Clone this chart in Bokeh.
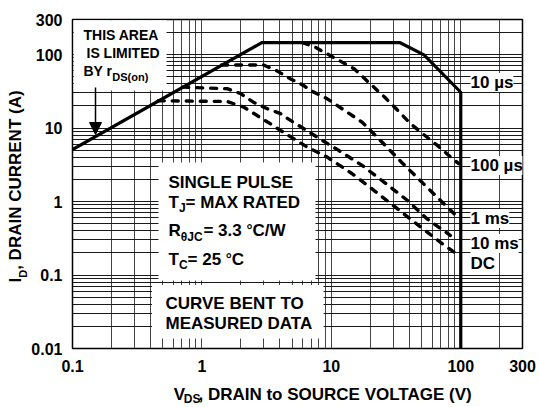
import math
from bokeh.plotting import figure
from bokeh.layouts import row, column
from bokeh.models import (Range1d, FixedTicker, Label, BoxAnnotation, Arrow,
                          NormalHead, CustomJSTickFormatter)
from bokeh.embed import file_html
from bokeh.resources import INLINE

# ---------------- data ----------------
x_ticks = [0.1, 1, 10, 100, 300]
x_tick_labels = ["0.1", "1", "10", "100", "300"]
y_ticks = [0.01, 0.1, 1, 10, 100, 300]
y_tick_labels = ["0.01", "0.1", "1", "10", "100", "300"]

# 10 us envelope (solid): rDS(on) limit, current limit, power limit, BVDSS
limit_v = [0.1, 2.9, 34, 52, 100, 100]
limit_i = [5.1, 145, 145, 99, 30.7, 0.01]

us100_v = [6.0, 7.5, 10, 15, 20, 26, 33, 41, 52, 66, 80, 96]
us100_i = [145, 126, 95, 64, 40, 26, 17, 11.4, 8.1, 5.8, 4.3, 3.3]

ms1_v = [1.42, 3.0, 3.8, 4.8, 6.1, 6.9, 9.3, 17.3, 24.7, 35, 50, 72, 89]
ms1_i = [72, 72, 60, 47, 38, 32.4, 25, 12, 6.4, 3.4, 1.84, 0.98, 0.68]

ms10_v = [0.71, 1.57, 2.0, 2.5, 3.2, 4.05, 4.84, 6.13, 7.78, 11.4, 17.3, 25.5, 38.6, 55, 83]
ms10_i = [36, 34.3, 29.3, 22.5, 18.3, 15.7, 12.7, 9.8, 7.5, 4.96, 3.1, 1.84, 1.04, 0.58, 0.346]

dc_v = [0.46, 1.57, 2.11, 2.67, 3.39, 4.05, 5.13, 6.51, 9.29, 14.5, 21.3, 32.3, 47.4, 71.9, 88.5]
dc_i = [23.5, 23.0, 19.2, 14.8, 11.4, 9.27, 7.15, 5.5, 4.02, 2.39, 1.42, 0.80, 0.47, 0.267, 0.205]

curve_labels = ["10 µs", "100 µs", "1 ms", "10 ms", "DC"]

# ---------------- layout helpers ----------------
FONT = "Liberation Sans"
XMIN, XMAX, YMIN, YMAX = 0.1, 300, 0.01, 300
FL, FR, FT, FB = 72, 522, 19, 348  # frame edges in page pixels
YT_W = 28            # width of the y-title strip
MAIN_W, MAIN_H = 539 - YT_W, 386
XT_H = 407 - MAIN_H  # height of the x-title strip


def X(px):
    return 10 ** (math.log10(XMIN) + (px - FL) / (FR - FL) * math.log10(XMAX / XMIN))


def Y(py):
    return 10 ** (math.log10(YMIN) + (FB - py) / (FB - FT) * math.log10(YMAX / YMIN))


WID = {' ': 278, '(': 333, ')': 333, ',': 278, '-': 333, '.': 278, '/': 278, '=': 584,
       '°': 400, 'µ': 611, 'θ': 611,
       'A': 722, 'B': 722, 'C': 722, 'D': 722, 'E': 667, 'F': 611, 'G': 778, 'H': 722,
       'I': 278, 'J': 556, 'K': 722, 'L': 611, 'M': 833, 'N': 722, 'O': 778, 'P': 667,
       'Q': 778, 'R': 722, 'S': 667, 'T': 611, 'U': 722, 'V': 667, 'W': 944, 'X': 667,
       'Y': 667, 'Z': 611, 'a': 556, 'b': 611, 'c': 556, 'd': 611, 'e': 556, 'f': 333,
       'g': 611, 'h': 611, 'i': 278, 'j': 278, 'k': 556, 'l': 278, 'm': 889, 'n': 611,
       'o': 611, 'p': 611, 'q': 611, 'r': 389, 's': 556, 't': 333, 'u': 611, 'v': 556,
       'w': 778, 'x': 556, 'y': 556, 'z': 500}
for d in "0123456789":
    WID[d] = 556


def tw(s, size):
    return sum(WID.get(c, 600) for c in s) * size / 1000.0


# ---------------- main figure ----------------
p = figure(width=MAIN_W, height=MAIN_H, x_axis_type="log", y_axis_type="log",
           x_range=Range1d(XMIN, XMAX), y_range=Range1d(YMIN, YMAX),
           output_backend="svg", toolbar_location=None,
           min_border_left=FL - YT_W, min_border_right=YT_W + MAIN_W - FR,
           min_border_top=FT, min_border_bottom=MAIN_H - FB)
p.background_fill_color = "white"
p.border_fill_color = "white"
p.outline_line_color = "black"
p.outline_line_width = 1.5


def minors(lo, hi):
    out = []
    d = lo
    while d < hi:
        for k in range(2, 10):
            if k * d < hi:
                out.append(k * d)
        d *= 10
    return out


xt = FixedTicker(ticks=x_ticks, minor_ticks=minors(XMIN, XMAX))
yt = FixedTicker(ticks=y_ticks, minor_ticks=minors(YMIN, YMAX))
p.xaxis.ticker = xt
p.yaxis.ticker = yt
p.xgrid.ticker = xt
p.ygrid.ticker = yt

fmt_code = """
for (let k = 0; k < tv.length; k++) {
  if (Math.abs(tv[k] - tick) <= 1e-6 * tv[k]) return tl[k];
}
return "";
"""
p.xaxis.formatter = CustomJSTickFormatter(args=dict(tv=x_ticks, tl=x_tick_labels), code=fmt_code)
p.yaxis.formatter = CustomJSTickFormatter(args=dict(tv=y_ticks, tl=y_tick_labels), code=fmt_code)

for ax in (p.xaxis, p.yaxis):
    ax.axis_line_color = None
    ax.major_tick_line_color = None
    ax.minor_tick_line_color = None
    ax.major_tick_out = 0
    ax.major_tick_in = 0
    ax.minor_tick_out = 0
    ax.minor_tick_in = 0
    ax.major_label_text_font = FONT
    ax.major_label_text_font_style = "bold"
    ax.major_label_text_font_size = "16px"
    ax.major_label_text_color = "black"
p.xaxis.major_label_standoff = 11
p.yaxis.major_label_standoff = 10

p.xgrid.grid_line_color = "#444444"
p.xgrid.minor_grid_line_color = "#444444"
p.ygrid.grid_line_color = "#1a1a1a"
p.ygrid.minor_grid_line_color = "#1a1a1a"
for g in (p.xgrid, p.ygrid):
    g.grid_line_width = 1
    g.minor_grid_line_width = 1
    g.grid_line_alpha = 1
    g.minor_grid_line_alpha = 1

# ---------------- curves ----------------
p.line(limit_v, limit_i, line_width=3.2, line_color="black")
for vv, ii in ((us100_v, us100_i), (ms1_v, ms1_i), (ms10_v, ms10_i), (dc_v, dc_i)):
    p.line(vv, ii, line_width=3.4, line_color="black", line_dash="6 8", line_cap="round")


# ---------------- white boxes ----------------
def wbox(l, r, t, b):
    p.add_layout(BoxAnnotation(left=X(l), right=X(r), top=Y(t), bottom=Y(b),
                               fill_color="white", fill_alpha=1.0, line_color=None))


wbox(73.2, 166, 19.8, 90)
wbox(158, 315, 162, 280)
wbox(151.5, 323, 284.5, 338)


def add_text(fig, x, y, s, size, align="left", angle=0.0, bg=None):
    lab = Label(x=x, y=y, text=s, text_font=FONT, text_font_style="bold",
                text_font_size=f"{size}px", text_color="black", text_align=align,
                text_baseline="middle", angle=angle)
    if bg is not None:
        lab.background_fill_color = bg
        lab.background_fill_alpha = 1.0
    fig.add_layout(lab)


def rich(fig, conv, px, py, parts, angle=0.0):
    """Place text pieces side by side; py / px is the centre line of the main text."""
    cur = 0.0
    for s, size, shift in parts:
        if angle == 0.0:
            x, y = conv(px + cur, py + shift)
        else:
            x, y = conv(px + shift, py - cur)
        add_text(fig, x, y, s, size, angle=angle)
        cur += tw(s, size)


def conv_main(px, py):
    return X(px), Y(py)


# top-left note
rich(p, conv_main, 83, 34, [("THIS AREA", 14, 0)])
rich(p, conv_main, 86, 52.5, [("IS LIMITED", 14, 0)])
rich(p, conv_main, 83, 70, [("BY r", 14, 0), ("DS(on)", 11, 6)])
p.add_layout(Arrow(x_start=X(95), y_start=Y(87), x_end=X(95), y_end=Y(134),
                   line_width=1.5, line_color="black",
                   end=NormalHead(size=12, fill_color="black", line_color="black", line_width=1)))

# conditions box
rich(p, conv_main, 168, 181.7, [("SINGLE PULSE", 17, 0)])
rich(p, conv_main, 168, 201.5, [("T", 17, 0), ("J", 12, 6), (" = MAX RATED", 17, 0)])
rich(p, conv_main, 168, 230, [("R", 17, 0), ("θJC", 12, 6), (" = 3.3", 17, 0), ("°", 15, -1), ("C/W", 17, 0)])
rich(p, conv_main, 168, 258.5, [("T", 17, 0), ("C", 12, 5.5), (" = 25", 17, 0), ("°", 15, -1), ("C", 17, 0)])

rich(p, conv_main, 165, 303.3, [("CURVE BENT TO", 17, 0)])
rich(p, conv_main, 165, 323.3, [("MEASURED DATA", 17, 0)])

# curve labels on the right
label_y = [82, 165, 218, 243, 263]
for s, yy in zip(curve_labels, label_y):
    add_text(p, X(470), Y(yy), s, 17, bg="white")


# ---------------- axis-title strips ----------------
def strip(w, h):
    f = figure(width=w, height=h, x_range=Range1d(0, w), y_range=Range1d(h, 0),
               output_backend="svg", toolbar_location=None,
               x_axis_location=None, y_axis_location=None, min_border=0)
    f.grid.visible = False
    f.outline_line_color = None
    f.background_fill_color = "white"
    f.border_fill_color = "white"
    return f


xt_fig = strip(MAIN_W, XT_H)
yt_fig = strip(YT_W, 407)


def conv_xt(px, py):
    return px - YT_W, py - MAIN_H


def conv_yt(px, py):
    return px, py


rich(xt_fig, conv_xt, 143, 394, [("V", 17, 0), ("DS", 12, 4.5), (", DRAIN to SOURCE VOLTAGE (V)", 17, 0)])
rich(yt_fig, conv_yt, 15, 282, [("I", 17, 0), ("D", 11, 7), (", DRAIN CURRENT (A)", 17, 0)], angle=math.pi / 2)

layout = row(yt_fig, column(p, xt_fig))
open("out.html", "w").write(file_html(layout, INLINE))
